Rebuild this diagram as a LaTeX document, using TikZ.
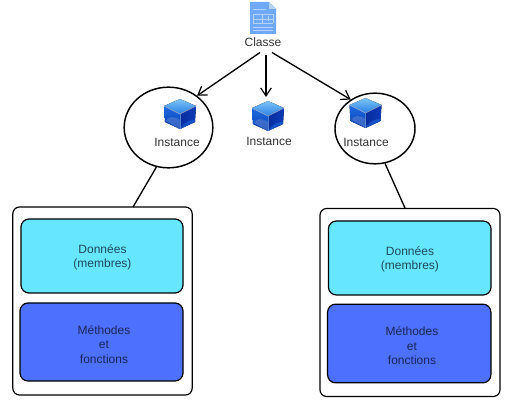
\documentclass[tikz,border=0pt]{standalone}
\usepackage{fontspec}
\setmainfont{Liberation Sans}
\usetikzlibrary{shapes.geometric,arrows.meta}
\definecolor{txt}{HTML}{333333}
\definecolor{cyanfill}{HTML}{66E6FF}
\definecolor{bluefill}{HTML}{4D70FF}
\definecolor{cyantxt}{HTML}{1F4A5C}
\definecolor{bluetxt}{HTML}{1A2560}
\definecolor{docblue}{HTML}{6FA8F5}
\definecolor{docline}{HTML}{B5D3FA}
\definecolor{cubetopA}{HTML}{7CC4F8}
\definecolor{cubetopB}{HTML}{2A80E4}
\definecolor{cubeleftA}{HTML}{1E6CE0}
\definecolor{cubeleftB}{HTML}{0A3FB4}
\definecolor{cuberightA}{HTML}{082C9E}
\definecolor{cuberightB}{HTML}{0C3CB8}
\tikzset{
  x=0.75pt,y=-0.75pt,
  lbl/.style={font=\fontsize{9}{10.5}\selectfont,text=txt,inner sep=0pt,align=center},
  halo/.style={draw=black,line width=1.1pt,ellipse,inner sep=0pt},
  outerbox/.style={draw=black,line width=0.9pt,rounded corners=5pt,fill=white,inner sep=0pt},
  databox/.style={draw=black,line width=0.9pt,rounded corners=6pt,fill=cyanfill,inner sep=0pt},
  methbox/.style={draw=black,line width=0.9pt,rounded corners=6pt,fill=bluefill,inner sep=0pt},
  datatxt/.style={inner sep=0pt,align=center,text=cyantxt,font=\fontsize{9}{10.8}\selectfont},
  methtxt/.style={inner sep=0pt,align=center,text=bluetxt,font=\fontsize{9}{10.8}\selectfont},
  arrowline/.style={draw=black,line width=1pt,-{Straight Barb[length=6pt,width=8pt,line width=0.9pt]}},
  linkline/.style={draw=black,line width=1pt},
  cube/.pic={
    \fill[top color=cubetopA,bottom color=cubetopB] (-16,-8)--(0,-15)--(16,-8)--(0,0)--cycle;
    \fill[top color=cubeleftA,bottom color=cubeleftB] (-16,-8)--(0,0)--(0,15)--(-15,8)--cycle;
    \fill[left color=cuberightA,right color=cuberightB] (0,0)--(16,-8)--(15,8)--(0,15)--cycle;
    \fill[cubeleftB!60!white,opacity=.45] (-14,7) .. controls (-12,2) and (-6,2) .. (0,6) -- (0,15)--cycle;
    \fill[cubeleftA,opacity=.5] (0,15) .. controls (4,8) and (9,6) .. (15,6) -- (15,8)--cycle;
    \draw[white,opacity=.6,line width=.4pt] (-16,-8)--(0,0)--(16,-8);
    \draw[cubetopB!60!white,opacity=.6,line width=.4pt] (0,0)--(0,15);
  },
}
\begin{document}
\begin{tikzpicture}
\useasboundingbox (0,0) rectangle (512,406);
% document icon
\fill[docblue] (250,2)--(269,2)--(276,9)--(276,34)--(250,34)--cycle;
\fill[docline] (269,2)--(276,9)--(269,9)--cycle;
\draw[docline,line width=.5pt] (253,9)--(266,9) (253,14)--(273,14) (253,19)--(273,19) (253,23)--(273,23) (253,27)--(273,27) (253,30)--(273,30) (253,14)--(253,23) (273,14)--(273,23) (262,14)--(262,23) (268,16)--(268,21);
\node[lbl] (classe) at (263,42.5) {Classe};
\coordinate (cl) at (260,52.5);
\coordinate (cm) at (266,55);
\coordinate (cr) at (272,52.5);
% instances
\node[halo,minimum width=66.5pt,minimum height=60.5pt] (instA) at (168.5,127.5) {};
\node[halo,minimum width=60pt,minimum height=53pt] (instC) at (375,128.5) {};
\pic at (180,114) {cube};
\pic at (268,116) {cube};
\pic at (365.5,113) {cube};
\node[lbl] (labA) at (177,142) {Instance};
\node[lbl] (labB) at (269,141) {Instance};
\node[lbl] (labC) at (366,142) {Instance};
\coordinate (instB) at (266,97);
% objects
\node[outerbox,minimum width=134.5pt,minimum height=141pt] (objA) at (102.5,301) {};
\node[databox,minimum width=121.5pt,minimum height=55.5pt] (dataA) at (102,256) {};
\node[methbox,minimum width=122.25pt,minimum height=58.5pt] (methA) at (101.5,342) {};
\node[datatxt] (dataAt) at (102.5,257.5) {Données\\(membres)};
\node[methtxt] (methAt) at (104,344.5) {Méthodes\\et\\fonctions};
\node[outerbox,minimum width=135pt,minimum height=141pt] (objC) at (410,302.5) {};
\node[databox,minimum width=122pt,minimum height=55.5pt] (dataC) at (409.75,258) {};
\node[methbox,minimum width=122.5pt,minimum height=59pt] (methC) at (409.25,343.5) {};
\node[datatxt] (dataCt) at (410,259.5) {Données\\(membres)};
\node[methtxt] (methCt) at (412,346) {Méthodes\\et\\fonctions};
\coordinate (linkA) at (133,207);
\coordinate (linkC) at (405,208);
% connectors
\draw[arrowline] (cl) -- (instA.48);
\draw[arrowline] (cm) -- (instB);
\draw[arrowline] (cr) -- (instC.130);
\draw[linkline] (instA.-107) -- (linkA);
\draw[linkline] (instC.-74) -- (linkC);
\end{tikzpicture}
\end{document}
